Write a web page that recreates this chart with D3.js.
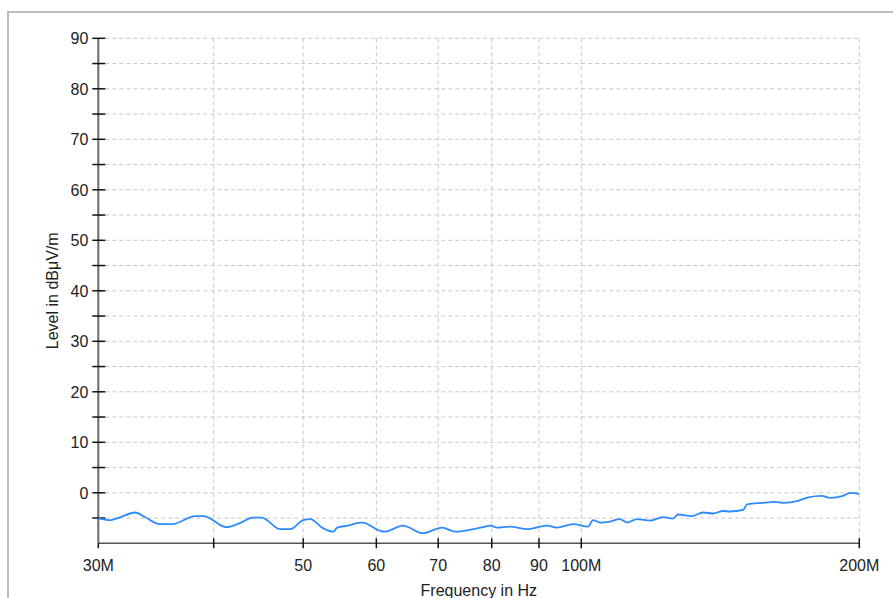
<!DOCTYPE html>
<html>
<head>
    <title></title>
    <meta charset="utf-8">
    <script src="https://d3js.org/d3.v7.min.js"></script>
    <style>
        body { margin: 0; background: #fff; }
        text { font-family: "Liberation Sans", Arial, sans-serif; fill: #222; }
    </style>
</head>
<body>

<script>
// measured trace (frequency in MHz, level in dBuV/m)
var freqMHz = [30.0, 30.9, 31.5, 32.9, 33.7, 35.0, 36.1, 38.2, 39.1, 39.9, 40.9, 41.3, 42.7, 44.1, 45.1,
               47.2, 48.4, 50.0, 50.9, 52.5, 53.9, 54.4, 55.9, 57.6, 58.0, 60.3, 61.3, 64.1, 67.4, 70.7,
               73.0, 76.4, 78.7, 79.7, 81.1, 83.7, 87.4, 91.8, 94.1, 98.0, 101.7, 103.0, 104.8, 107.4,
               110.1, 112.1, 114.9, 118.7, 122.6, 125.7, 127.3, 131.8, 135.5, 138.9, 142.4, 144.9,
               149.7, 151.2, 156.9, 162.1, 165.4, 171.7, 176.0, 182.2, 185.9, 192.0, 195.4, 198.9, 200.0];
var levelDb = [-5.05, -5.4, -5.0, -3.9, -4.8, -6.2, -6.2, -4.6, -4.6, -5.4, -6.6, -6.8, -6.0, -4.9, -4.9,
               -7.2, -7.2, -5.4, -5.2, -7.0, -7.7, -6.9, -6.5, -5.9, -5.9, -7.4, -7.7, -6.5, -8.0, -6.9,
               -7.7, -7.2, -6.7, -6.5, -6.9, -6.7, -7.2, -6.5, -6.9, -6.2, -6.7, -5.4, -5.9,
               -5.7, -5.2, -5.9, -5.2, -5.5, -4.8, -5.1, -4.3, -4.6, -3.9, -4.1, -3.6, -3.7,
               -3.4, -2.3, -2.0, -1.8, -2.0, -1.6, -0.9, -0.6, -1.0, -0.6, 0.0, -0.1, -0.2];

var xTicks = [30, 40, 50, 60, 70, 80, 90, 100, 200];
var xTickLabels = ["30M", "", "50", "60", "70", "80", "90", "100M", "200M"];
var yTicks = [-5, 0, 5, 10, 15, 20, 25, 30, 35, 40, 45, 50, 55, 60, 65, 70, 75, 80, 85, 90];
var yLabels = [0, 10, 20, 30, 40, 50, 60, 70, 80, 90];

var width = 893, height = 598;
var plotL = 98.3, plotR = 859.3, plotT = 38.3, plotB = 543.3;

var svg = d3.select("body").append("svg")
    .attr("width", width)
    .attr("height", height);

// outer frame
svg.append("rect")
    .attr("x", 8).attr("y", 12)
    .attr("width", 920).attr("height", 620)
    .attr("fill", "none")
    .attr("stroke", "#bcbcbc")
    .attr("stroke-width", 2);

var x = d3.scaleLog().domain([30, 200]).range([plotL, plotR]);
var y = d3.scaleLinear().domain([-10, 90]).range([plotB, plotT]);

// grid
svg.append("g").selectAll("line").data(yTicks).enter().append("line")
    .attr("x1", plotL).attr("x2", plotR)
    .attr("y1", function(d){ return y(d); })
    .attr("y2", function(d){ return y(d); })
    .attr("stroke", "#c8c8c8")
    .attr("stroke-dasharray", "4,3")
    .attr("stroke-width", 1);

svg.append("g").selectAll("line").data(xTicks.slice(1)).enter().append("line")
    .attr("x1", function(d){ return x(d); })
    .attr("x2", function(d){ return x(d); })
    .attr("y1", plotT).attr("y2", plotB)
    .attr("stroke", "#c8c8c8")
    .attr("stroke-dasharray", "4,3")
    .attr("stroke-width", 1);

// axes lines
svg.append("line")
    .attr("x1", plotL).attr("x2", plotL)
    .attr("y1", plotT).attr("y2", plotB)
    .attr("stroke", "#6a6a6a").attr("stroke-width", 2);
svg.append("line")
    .attr("x1", plotL).attr("x2", plotR)
    .attr("y1", plotB).attr("y2", plotB)
    .attr("stroke", "#555").attr("stroke-width", 1.5);

// y ticks
svg.append("g").selectAll("line").data(yTicks).enter().append("line")
    .attr("x1", plotL - 6).attr("x2", plotL + 7)
    .attr("y1", function(d){ return y(d); })
    .attr("y2", function(d){ return y(d); })
    .attr("stroke", "#111").attr("stroke-width", 1.5);

svg.append("g").selectAll("text").data(yLabels).enter().append("text")
    .attr("x", plotL - 10)
    .attr("y", function(d){ return y(d); })
    .attr("dy", "0.36em")
    .attr("text-anchor", "end")
    .style("font-size", "16px")
    .text(function(d){ return d; });

// x ticks
svg.append("g").selectAll("line").data(xTicks).enter().append("line")
    .attr("x1", function(d){ return x(d); })
    .attr("x2", function(d){ return x(d); })
    .attr("y1", function(d, i){ return i == 0 ? plotB : plotB - 5; })
    .attr("y2", plotB + 5)
    .attr("stroke", "#111").attr("stroke-width", 1.5);

svg.append("g").selectAll("text").data(xTicks).enter().append("text")
    .attr("x", function(d){ return x(d); })
    .attr("y", 571)
    .attr("text-anchor", "middle")
    .style("font-size", "16px")
    .text(function(d, i){ return xTickLabels[i]; });

// trace
var data = freqMHz.map(function(f, i){ return {f: f, v: levelDb[i]}; });
var line = d3.line()
    .curve(d3.curveMonotoneX)
    .x(function(d){ return x(d.f); })
    .y(function(d){ return y(d.v); });
svg.append("path")
    .attr("d", line(data))
    .attr("fill", "none")
    .attr("stroke", "#2f8bff")
    .attr("stroke-width", 1.8);

// axis titles
svg.append("text")
    .attr("x", (plotL + plotR) / 2)
    .attr("y", 596)
    .attr("text-anchor", "middle")
    .style("font-size", "16px")
    .text("Frequency in Hz");

svg.append("text")
    .attr("transform", "translate(58," + ((plotT + plotB) / 2) + ") rotate(-90)")
    .attr("text-anchor", "middle")
    .style("font-size", "16px")
    .text("Level in dBμV/m");
</script>
</body>
</html>
